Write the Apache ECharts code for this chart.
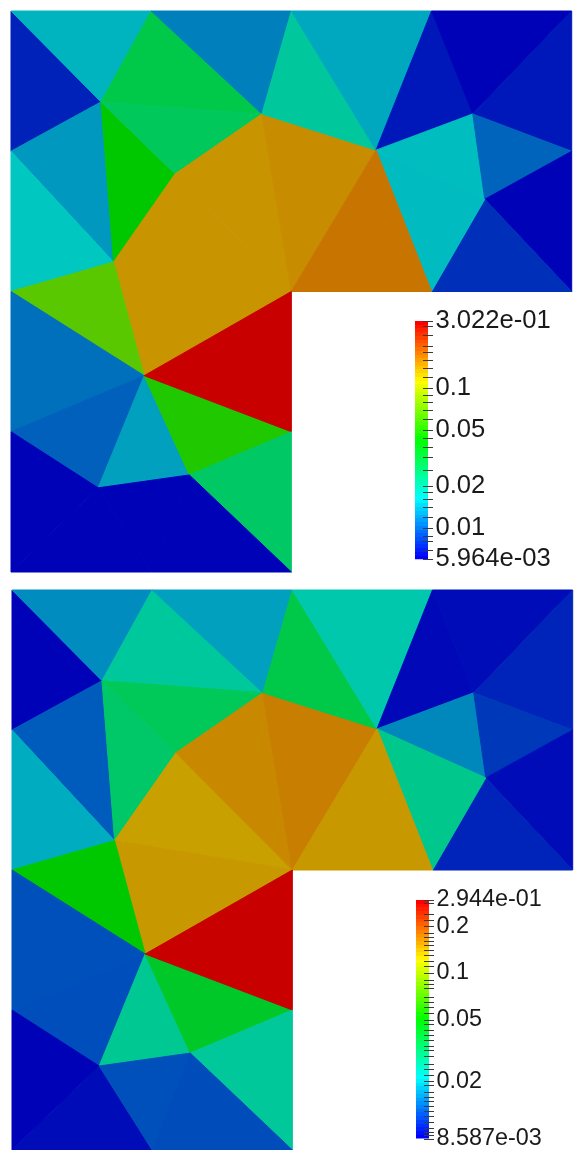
<!DOCTYPE html>
<html><head><meta charset="utf-8">
<style>html,body{margin:0;padding:0;background:#fff}#c{width:580px;height:1150px}</style>
<script src="https://cdn.jsdelivr.net/npm/echarts@6/dist/echarts.min.js"></script>
</head><body><div id="c"></div>
<script>
// mesh nodes, in domain units [0,2]x[0,2]
const nodeNames = ['TL','T1','T2','T3','TR','L1','L2','L3','BL','B1','B2','C','R1','R2','B3','M','P','Q','R','S','U','V','W','X','Y','Z'];
const nodeX = [0,0.5,1,1.5,2,0,0,0,0,0.5,1,1,2,2,1.5,1,0.321,0.895,0.585,0.366,1.302,1.647,1.69,0.475,0.311,0.636];
const nodeY = [2,2,2,2,2,1.5,1,0.5,0,0,0,1,1.5,1,1,0.5,1.676,1.633,1.419,1.105,1.504,1.633,1.329,0.7,0.3,0.346];
const triangles = [
 'TL P L1','TL T1 P','T1 Q P','T1 T2 Q','L1 P S','L1 S L2','P R S','P Q R','S R C','Q R C',
 'Q U C','Q T2 U','T2 T3 U','U T3 V','T3 TR V','TR R1 V','U V W','V R1 W','R1 R2 W','W R2 B3',
 'U W B3','U B3 C','S C X','S X L2','L2 X L3','L3 X Y','X Y Z','X Z M','X M C','Z M B2',
 'L3 Y BL','BL Y B1','Y Z B1','Z B2 B1'];
const valuesTop = [
 .00706,.01442,.02925,.01113,.01257,.01591,.04245,.02671,.1462,.1462,
 .1520,.01913,.01360,.00671,.00603,.00671,.01518,.00974,.00603,.00755,
 .0150,.1711,.1462,.0660,.01033,.00955,.01307,.04968,.3022,.02528,
 .00603,.00603,.00603,.00603];
const valuesBottom = [
 .00868,.01594,.02437,.01741,.0129,.01838,.0310,.03339,.1453,.1617,
 .1690,.03596,.02263,.00890,.00906,.01006,.01567,.01100,.00906,.01006,
 .02624,.1505,.1505,.05028,.01223,.01214,.02569,.04171,.2944,.02478,
 .00868,.00906,.01223,.01201];
const rangeTop = [5.964e-3, 0.3022];
const rangeBottom = [8.587e-3, 0.2944];
const labelsTop = [0.3022,0.1,0.05,0.02,0.01,5.964e-3];
const labelsBottom = [0.2944,0.2,0.1,0.05,0.02,8.587e-3];
const ticksTop = [.28,.24,.2,.18,.16,.14,.12,.1,.09,.08,.07,.06,.05,.044,.038,.032,.026,.02,.018,.016,.014,.012,.01,.0088,.008,.007,.006];
const ticksBottom = [.28,.24,.22,.2,.18,.17,.16,.15,.14,.13,.12,.11,.1,.09,.085,.08,.07,.065,.06,.055,.05,.047,.043,.04,.037,.034,.032,.029,.026,.024,.022,.02,.019,.017,.016,.015,.014,.013,.012,.011,.01,.0095,.009];
// lookup table stops: lit surface and full-bright legend
const rampDim = [[0,0,184],[0,200,192],[0,200,0],[200,200,0],[200,0,0]];
const rampBar = [[0,0,255],[0,255,255],[0,255,0],[255,255,0],[255,0,0]];
const barSteps = 64;
const barShare = 13/18;   // part of the legend grid covered by the colour strip
const tickStart = 8/18;   // where a legend tick begins inside the legend grid

function rampColor(ramp, t){
  t = Math.max(0, Math.min(1, t));
  const p = t*(ramp.length-1), i = Math.min(Math.floor(p), ramp.length-2), f = p-i;
  const c = ramp[i].map((a,k)=>Math.round(a+(ramp[i+1][k]-a)*f));
  return 'rgb('+c.join(',')+')';
}
function meshSeries(idx, values, range){
  const data = triangles.map((t,i)=>[...t.split(' ').map(n=>nodeNames.indexOf(n)), values[i]]);
  const lr = Math.log(range[1]/range[0]);
  return {
    type:'custom', xAxisIndex:idx, yAxisIndex:idx, silent:true, animation:false,
    clip:false, encode:{x:[],y:[]}, data,
    renderItem(params, api){
      const pts = [0,1,2].map(k=>{const n=api.value(k);return api.coord([nodeX[n],nodeY[n]]);});
      const col = rampColor(rampDim, Math.log(api.value(3)/range[0])/lr);
      return {type:'polygon', shape:{points:pts}, style:{fill:col, stroke:col, lineWidth:1, lineJoin:'bevel'}};
    }
  };
}
function barSeries(idx, range){
  const stops = [];
  for(let i=0;i<barSteps;i++){
    const c = rampColor(rampBar, i/(barSteps-1));
    stops.push({offset:i/barSteps,color:c},{offset:(i+1)/barSteps,color:c});
  }
  return {
    type:'custom', xAxisIndex:idx, yAxisIndex:idx, silent:true, animation:false,
    encode:{x:[],y:[]}, data:[[range[0],range[1]]], z:1,
    renderItem(params, api){
      const a = api.coord([0,api.value(0)]), b = api.coord([barShare,api.value(1)]);
      return {type:'rect', shape:{x:a[0],y:b[1],width:b[0]-a[0],height:a[1]-b[1]},
        style:{fill:new echarts.graphic.LinearGradient(0,1,0,0,stops)}};
    }
  };
}
function tickSeries(idx, ticks, labels){
  return {
    type:'custom', xAxisIndex:idx, yAxisIndex:idx, silent:true, animation:false,
    encode:{x:[],y:[]}, z:3, data:ticks.concat(labels).map(v=>[v]),
    renderItem(params, api){
      const a = api.coord([tickStart,api.value(0)]), b = api.coord([1,api.value(0)]);
      const y = Math.round(a[1])+0.5;
      return {type:'line', shape:{x1:a[0],y1:y,x2:b[0],y2:y}, style:{stroke:'#3a3a3a',lineWidth:1}};
    }
  };
}
const hiddenX = i=>({type:'value',gridIndex:i,min:0,max:i<2?2:1,show:false});
const hiddenY = i=>({type:'value',gridIndex:i,min:0,max:2,show:false});
function fmtExp(e){ return e.toExponential(3).replace(/e-(\d)$/,'e-0$1'); }
function barAxis(i, range, labels, fontSize){
  return {
    type:'log', gridIndex:i, min:range[0], max:range[1], position:'right', z:5,
    splitLine:{show:false}, minorTick:{show:false}, axisLine:{show:false}, axisTick:{show:false},
    axisLabel:{show:true, margin:2.5, customValues:labels, color:'#1a1a1a',
      fontFamily:'Liberation Sans', fontSize, showMinLabel:true, showMaxLabel:true, hideOverlap:false,
      formatter:v=>{
        for(const e of range){ if(Math.abs(v-e)/e<1e-6) return fmtExp(e); }
        return String(+v.toPrecision(3));
      }}
  };
}
const chart = echarts.init(document.getElementById('c'),null,{renderer:'canvas'});
chart.setOption({
  animation:false, backgroundColor:'#fff',
  grid:[
    {left:11,top:11,width:560.7,height:561},
    {left:12,top:590,width:560.7,height:560.5},
    {left:415,top:321,width:18,height:238.3},
    {left:416,top:900,width:18,height:239}
  ],
  xAxis:[hiddenX(0),hiddenX(1),hiddenX(2),hiddenX(3)],
  yAxis:[hiddenY(0),hiddenY(1),barAxis(2,rangeTop,labelsTop,25.6),barAxis(3,rangeBottom,labelsBottom,23.4)],
  series:[meshSeries(0,valuesTop,rangeTop),meshSeries(1,valuesBottom,rangeBottom),
    barSeries(2,rangeTop),barSeries(3,rangeBottom),
    tickSeries(2,ticksTop,labelsTop),tickSeries(3,ticksBottom,labelsBottom)]
});
</script></body></html>
